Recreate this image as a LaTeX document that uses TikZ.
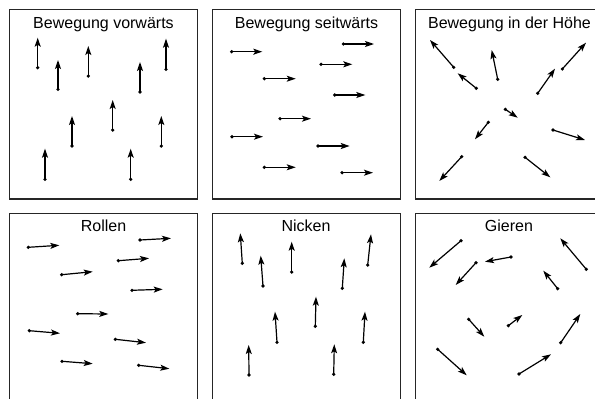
\documentclass[tikz,border=0pt]{standalone}
\usepackage{fontspec}
\setmainfont{Liberation Sans}
\usetikzlibrary{arrows.meta}
\begin{document}
\begin{tikzpicture}[x=1pt,y=-1pt,
  panel/.style={draw=black!85, line width=1.3pt},
  vec/.style={line width=1.2pt, -{Stealth[length=9pt,width=6pt,inset=2pt]}},
  tailpt/.style={circle, fill, inner sep=0pt, minimum size=3.6pt},
  title/.style={anchor=base, font=\fontsize{16}{19}\selectfont, inner sep=0pt}]
\useasboundingbox (0,0) rectangle (595,399);
\clip (0,0) rectangle (595,399);
% panels
\foreach \px/\py/\nm in {9.5/9.5/p1, 212.3/9.5/p2, 415.7/9.5/p3, 9.5/213.3/p4, 212.3/213.3/p5, 415.7/213.3/p6}
  \draw[panel] (\px,\py) rectangle ++(188.3,189.5);
% titles
\node[title] (t1) at (103.5,28.3) {Bewegung vorwärts};
\node[title] (t2) at (306.5,28.3) {Bewegung seitwärts};
\node[title] (t3) at (509.5,28.3) {Bewegung in der Höhe};
\node[title] (t4) at (103.5,231.5) {Rollen};
\node[title] (t5) at (306,231.5) {Nicken};
\node[title] (t6) at (509,231.5) {Gieren};
% vectors: tail x / tail y / tip x / tip y
\foreach \ax/\ay/\bx/\by [count=\i] in {
  % Bewegung vorwaerts
  37.7/67.7/37.7/37.7, 58/89.3/58/60, 88.3/76/88.3/46, 140/92/140/62, 166/69.3/166/38.7,
  112.7/130/112.7/100, 72/146/72/116, 161.3/146/161.3/116, 45/179.3/45/148.7, 130.7/179.3/130.7/148.7,
  % Bewegung seitwaerts
  231.7/51.7/262.3/51.7, 343.3/44/374/44, 321/64.3/352.3/64.3, 264.3/78.7/295.7/78.7, 334.7/95/365.3/95,
  280/118.7/311/118.7, 232/136.7/263/136.7, 318/146/349.7/146, 264.3/167.3/295.7/167.3, 342/172.7/373/172.7,
  % Bewegung in der Hoehe
  453.7/67.3/430/40, 476.3/88.3/457.7/73.3, 497.7/79.3/491.7/50, 562.3/69/586/42.7, 537.7/93.3/555/68.7,
  505.3/109.3/517.7/117.7, 488.3/122.3/475/139.3, 553/130/585/140, 461.7/156.7/439.3/181, 525/157.3/550.3/177.3,
  % Rollen
  28.3/247.3/59.3/245.3, 140/240/171/238.3, 118.3/260.7/149/258.3, 61.7/274.7/92.7/271.7, 132/290.3/162.7/289.3,
  77.7/313.7/108.3/314, 29.3/330.7/60/333.3, 115.3/339.3/146/342.7, 62/361.3/92.7/363.7, 138.7/365.3/169.3/368.7,
  % Nicken
  242.3/263.3/240.3/233.3, 263/286/260.7/255.7, 291.7/272/291.7/241.7, 342.3/288.3/344.3/258.3, 367.7/265/371/234.3,
  315.3/326.3/316/296.7, 277/342.3/275/311.7, 363.3/342.3/365/311.7, 249/375/248.7/345, 333.7/374.3/334.3/344.3,
  % Gieren
  461/240.7/429.3/267.7, 511/257/485/261.7, 476/262.7/455.7/285, 586.3/269.3/560.3/238.3, 557.7/288.7/543.3/270.7,
  468.7/319.3/484.3/336.7, 508.3/325.7/522.3/315, 560.7/342.7/580.3/314, 437.7/349.3/466.7/375.3, 519/374/551/354.3}
{
  \node[tailpt] (v\i) at (\ax,\ay) {};
  \coordinate (w\i) at (\bx,\by);
  \draw[vec] (v\i.center) -- (w\i);
}
\end{tikzpicture}
\end{document}
